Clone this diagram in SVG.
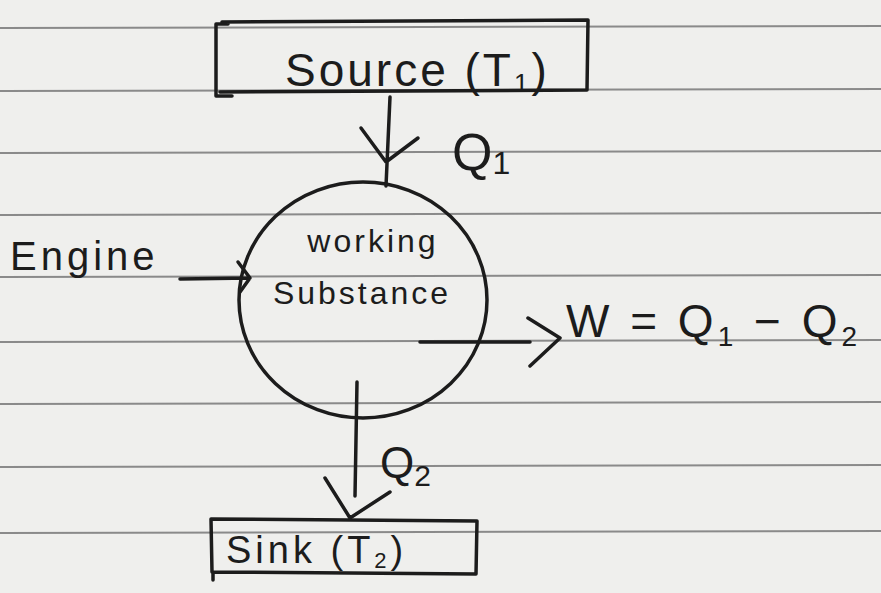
<svg xmlns="http://www.w3.org/2000/svg" width="881" height="593" viewBox="0 0 881 593">
<defs>
<style>
.rule{stroke:#8a8a8a;stroke-width:2;fill:none}
.ink{stroke:#1c1c1c;stroke-width:3.5;fill:none;stroke-linecap:round;stroke-linejoin:round}
.t{font-family:"Liberation Sans","DejaVu Sans",sans-serif;fill:#1c1c1c}
</style>
</defs>
<rect width="881" height="593" fill="#efefed"/>
<g id="ruling">
<line class="rule" x1="0" y1="28" x2="881" y2="26"/>
<line class="rule" x1="0" y1="91" x2="881" y2="89"/>
<line class="rule" x1="0" y1="153" x2="881" y2="151"/>
<line class="rule" x1="0" y1="215" x2="881" y2="213"/>
<line class="rule" x1="0" y1="277" x2="881" y2="275"/>
<line class="rule" x1="0" y1="342" x2="881" y2="340"/>
<line class="rule" x1="0" y1="404" x2="881" y2="402"/>
<line class="rule" x1="0" y1="467" x2="881" y2="465"/>
<line class="rule" x1="0" y1="533" x2="881" y2="531"/>
</g>
<g id="source">
<path class="ink" d="M222 22 L588 20 L587 90 L220 92 M228 24 L216 24 L216 96 L232 96"/>
<text class="t" x="285" y="86" font-size="46" letter-spacing="3">Source (T<tspan font-size="26" dy="6">1</tspan><tspan dy="-6">)</tspan></text>
</g>
<g id="working-substance">
<ellipse class="ink" cx="363" cy="300" rx="124" ry="118"/>
<text class="t" x="373" y="252" font-size="32" letter-spacing="3" text-anchor="middle">working</text>
<text class="t" x="362" y="304" font-size="32" letter-spacing="3" text-anchor="middle">Substance</text>
</g>
<g id="engine">
<text class="t" x="10" y="270" font-size="40" letter-spacing="4">Engine</text>
</g>
<g id="sink">
<path class="ink" d="M211 519 L477 521 L476 574 L212 572 Z M213 572 L213 580"/>
<text class="t" x="226" y="563" font-size="38" letter-spacing="4">Sink (T<tspan font-size="22" dy="5">2</tspan><tspan dy="-5">)</tspan></text>
</g>
<g id="work">
<text class="t" x="566" y="337" font-size="46" letter-spacing="4">W = Q<tspan font-size="28" dy="9">1</tspan><tspan dy="-9"> − Q</tspan><tspan font-size="28" dy="9">2</tspan></text>
</g>
<g id="connectors">
<path class="ink" d="M390 97 L386 186 M361 128 L386 162 L418 138"/>
<path class="ink" d="M180 279 L250 278 M238 262 L250 278 L240 292"/>
<path class="ink" d="M420 342 L530 342 M528 318 L560 338 L530 366"/>
<path class="ink" d="M357 382 L355 496 M325 478 L350 518 L390 492"/>
<text class="t" x="452" y="170" font-size="52">Q<tspan font-size="32" dy="4">1</tspan></text>
<text class="t" x="380" y="478" font-size="44">Q<tspan font-size="30" dy="8">2</tspan></text>
</g>
</svg>
